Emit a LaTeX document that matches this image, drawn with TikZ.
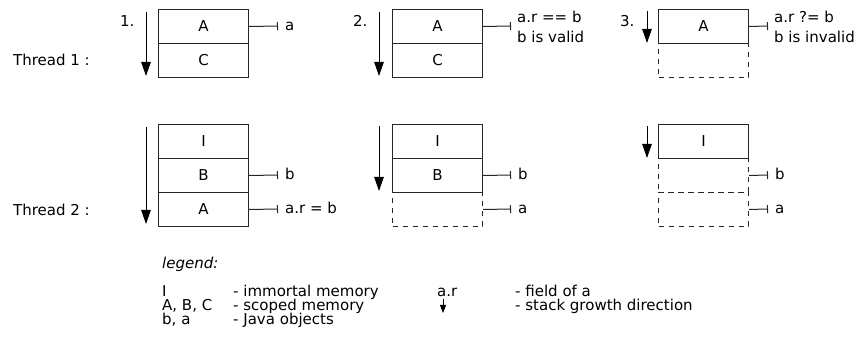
\documentclass[tikz,border=0pt]{standalone}
\usepackage{fontspec}
\setmainfont{DejaVu Sans}
\usetikzlibrary{arrows.meta}
\begin{document}
\begin{tikzpicture}[x=1pt,y=-1pt,
  mem/.style={draw=black!85,line width=1pt,minimum width=90pt,minimum height=34pt,
    inner sep=0pt,anchor=north west,font=\fontsize{15}{18}\selectfont},
  gone/.style={mem,dash pattern=on 5pt off 5pt},
  growarrow/.style={line width=1pt,draw=black,-{Triangle[length=14pt,width=9.5pt]}},
  growsmallarrow/.style={line width=1pt,draw=black,-{Triangle[length=8pt,width=6pt]}},
  refline/.style={line width=1pt,draw=black!85,-{Bar[width=8pt,line width=1pt]}},
  txt/.style={anchor=base west,inner sep=0pt,font=\fontsize{15}{18}\selectfont},
  lgd/.style={anchor=base west,inner sep=0pt,font=\fontsize{15}{18}\selectfont}]
\useasboundingbox (0,0) rectangle (857,347);

% ---------- labels of threads and steps
\node[txt] (th1) at (13,66) {Thread 1 :};
\node[txt] (th2) at (13,216) {Thread 2 :};
\node[txt] (s1) at (120,27) {1.};
\node[txt] (s2) at (353,27) {2.};
\node[txt] (s3) at (620,27) {3.};

% ---------- step 1
\node[mem] (a1) at (158,9) {A};
\node[mem] (c1) at (158,43) {C};
\node[mem] (i1) at (158,124) {I};
\node[mem] (b1) at (158,158) {B};
\node[mem] (aa1) at (158,192) {A};
\coordinate (g1s) at (146,12); \coordinate (g1e) at (146,76);
\coordinate (h1s) at (146,127); \coordinate (h1e) at (146,224);
\draw[growarrow] (g1s) -- (g1e);
\draw[growarrow] (h1s) -- (h1e);
\coordinate (r1a) at (278,26);
\coordinate (r1b) at (278,175);
\coordinate (r1c) at (278,209);
\draw[refline] (a1.east) -- (r1a);
\draw[refline] (b1.east) -- (r1b);
\draw[refline] (aa1.east) -- (r1c);
\node[txt] (l1a) at (285,31) {a};
\node[txt] (l1b) at (285,180) {b};
\node[txt] (l1c) at (285,214) {a.r = b};

% ---------- step 2
\node[mem] (a2) at (392,9) {A};
\node[mem] (c2) at (392,43) {C};
\node[mem] (i2) at (392,124) {I};
\node[mem] (b2) at (392,158) {B};
\node[gone] (aa2) at (392,192) {};
\coordinate (g2s) at (379,12); \coordinate (g2e) at (379,76);
\coordinate (h2s) at (379,126); \coordinate (h2e) at (379,191);
\draw[growarrow] (g2s) -- (g2e);
\draw[growarrow] (h2s) -- (h2e);
\coordinate (r2a) at (511,26);
\coordinate (r2b) at (511,175);
\coordinate (r2c) at (511,209);
\draw[refline] (a2.east) -- (r2a);
\draw[refline] (b2.east) -- (r2b);
\draw[refline] (aa2.east) -- (r2c);
\node[txt] (l2a) at (517,23) {a.r == b};
\node[txt] (l2a2) at (517,43) {b is valid};
\node[txt] (l2b) at (518,180) {b};
\node[txt] (l2c) at (518,214) {a};
\draw[line width=1pt,draw=black!85] (b2.south west) -- (b2.south east);

% ---------- step 3
\node[gone] (c3) at (658,43) {};
\node[mem] (a3) at (658,9) {A};
\node[gone] (b3) at (658,158) {};
\node[gone] (aa3) at (658,192) {};
\node[mem] (i3) at (658,124) {I};
\coordinate (g3s) at (647,11); \coordinate (g3e) at (647,43);
\coordinate (h3s) at (647,126); \coordinate (h3e) at (647,158);
\draw[growarrow] (g3s) -- (g3e);
\draw[growarrow] (h3s) -- (h3e);
\coordinate (r3a) at (768,26);
\coordinate (r3b) at (768,175);
\coordinate (r3c) at (768,209);
\draw[refline] (a3.east) -- (r3a);
\draw[refline] (b3.east) -- (r3b);
\draw[refline] (aa3.east) -- (r3c);
\node[txt] (l3a) at (774,23) {a.r ?= b};
\node[txt] (l3a2) at (774,43) {b is invalid};
\node[txt] (l3b) at (775,180) {b};
\node[txt] (l3c) at (775,214) {a};

% ---------- legend
\node[lgd,font=\fontsize{15}{18}\selectfont\itshape] (lg) at (162,269) {legend:};
\node[lgd] (k1) at (162,297) {I};
\node[lgd] (k2) at (162,311) {A, B, C};
\node[lgd] (k3) at (162,325) {b, a};
\node[lgd] (d1) at (233,297) {- immortal memory};
\node[lgd] (d2) at (233,311) {- scoped memory};
\node[lgd] (d3) at (233,325) {- Java objects};
\node[lgd] (k4) at (437,297) {a.r};
\coordinate (lgs) at (443,299); \coordinate (lge) at (443,313);
\draw[growsmallarrow] (lgs) -- (lge);
\node[lgd] (d4) at (515,297) {- field of a};
\node[lgd] (d5) at (515,311) {- stack growth direction};
\end{tikzpicture}
\end{document}
